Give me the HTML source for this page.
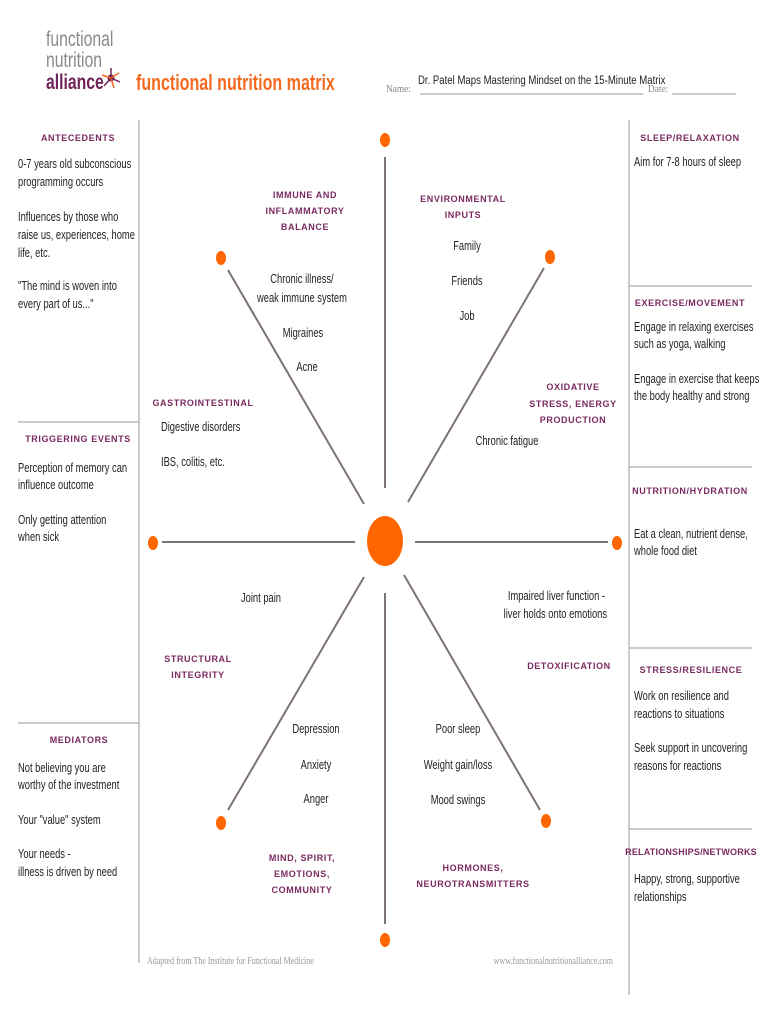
<!DOCTYPE html>
<html><head><meta charset="utf-8"><style>
html,body{margin:0;padding:0;background:#fff;}
svg{display:block;}
.b{font-family:"Liberation Sans",sans-serif;font-size:13px;fill:#222;}
.h{font-family:"Liberation Sans",sans-serif;font-size:9px;font-weight:bold;fill:#7b2a60;letter-spacing:0.6px;}
</style></head><body>
<svg width="770" height="1024" viewBox="0 0 770 1024" xmlns="http://www.w3.org/2000/svg">
<g font-family="Liberation Sans,sans-serif">
<text x="46" y="46" font-size="21" fill="#8a8a8a" transform="translate(46,0) scale(0.75,1) translate(-46,0)">functional</text>
<text x="46" y="67" font-size="21" fill="#8a8a8a" transform="translate(46,0) scale(0.75,1) translate(-46,0)">nutrition</text>
<text x="46" y="89" font-size="21" font-weight="bold" fill="#6e2458" transform="translate(46,0) scale(0.75,1) translate(-46,0)">alliance</text>
<g stroke-width="1.5">
<circle cx="111" cy="78" r="3.5" fill="#6e2458"/>
<line x1="111" y1="78" x2="111" y2="68" stroke="#6e2458"/><line x1="111" y1="78" x2="119" y2="73" stroke="#f26b21"/>
<line x1="111" y1="78" x2="120" y2="82" stroke="#6e2458"/><line x1="111" y1="78" x2="114" y2="88" stroke="#f26b21"/>
<line x1="111" y1="78" x2="104" y2="86" stroke="#6e2458"/><line x1="111" y1="78" x2="102" y2="75" stroke="#f26b21"/>
</g>
<text x="136" y="90" font-size="22" font-weight="bold" fill="#f26b21" transform="translate(136,0) scale(0.73,1) translate(-136,0)">functional nutrition matrix</text>
<text x="386" y="92" font-size="11" fill="#888" font-family="Liberation Serif,serif" transform="translate(386,0) scale(0.85,1) translate(-386,0)">Name:</text>
<line x1="420" y1="94" x2="643" y2="94" stroke="#777" stroke-width="0.8"/>
<text x="418" y="84" font-size="12" fill="#222" transform="translate(418,0) scale(0.8,1) translate(-418,0)">Dr. Patel Maps Mastering Mindset on the 15-Minute Matrix</text>
<text x="648" y="92" font-size="11" fill="#888" font-family="Liberation Serif,serif" transform="translate(648,0) scale(0.85,1) translate(-648,0)">Date:</text>
<line x1="672" y1="94" x2="736" y2="94" stroke="#777" stroke-width="0.8"/>
</g>
<g stroke="#aaa" stroke-width="1.2">
<line x1="139" y1="120" x2="139" y2="963"/>
<line x1="629" y1="120" x2="629" y2="995"/>
<line x1="18" y1="422" x2="139" y2="422"/>
<line x1="18" y1="723" x2="139" y2="723"/>
<line x1="629" y1="286" x2="752" y2="286"/>
<line x1="629" y1="467" x2="752" y2="467"/>
<line x1="629" y1="648" x2="752" y2="648"/>
<line x1="629" y1="829" x2="752" y2="829"/>
</g>
<g stroke="#7d7373" stroke-width="2">
<line x1="385" y1="157" x2="385" y2="488"/>
<line x1="228" y1="270" x2="364" y2="504"/>
<line x1="544" y1="268" x2="408" y2="502"/>
<line x1="162" y1="542" x2="355" y2="542"/>
<line x1="415" y1="542" x2="608" y2="542"/>
<line x1="364" y1="577" x2="228" y2="810"/>
<line x1="404" y1="575" x2="540" y2="810"/>
<line x1="385" y1="593" x2="385" y2="924"/>
</g>
<g fill="#ff6600">
<ellipse cx="385" cy="541" rx="18" ry="25"/>
<ellipse cx="385" cy="140" rx="5" ry="7"/>
<ellipse cx="221" cy="258" rx="5" ry="7"/>
<ellipse cx="550" cy="257" rx="5" ry="7"/>
<ellipse cx="153" cy="543" rx="5" ry="7"/>
<ellipse cx="617" cy="543" rx="5" ry="7"/>
<ellipse cx="221" cy="823" rx="5" ry="7"/>
<ellipse cx="546" cy="821" rx="5" ry="7"/>
<ellipse cx="385" cy="940" rx="5" ry="7"/>
</g>
<g class="h" text-anchor="middle">
<text x="78" y="141">ANTECEDENTS</text>
<text x="690" y="141">SLEEP/RELAXATION</text>
<text x="305" y="198">IMMUNE AND</text><text x="305" y="214">INFLAMMATORY</text><text x="305" y="230">BALANCE</text>
<text x="463" y="202">ENVIRONMENTAL</text><text x="463" y="218">INPUTS</text>
<text x="203" y="406">GASTROINTESTINAL</text>
<text x="573" y="390">OXIDATIVE</text><text x="573" y="407">STRESS, ENERGY</text><text x="573" y="423">PRODUCTION</text>
<text x="78" y="442">TRIGGERING EVENTS</text>
<text x="690" y="306">EXERCISE/MOVEMENT</text>
<text x="690" y="494">NUTRITION/HYDRATION</text>
<text x="198" y="662">STRUCTURAL</text><text x="198" y="678">INTEGRITY</text>
<text x="569" y="669">DETOXIFICATION</text>
<text x="691" y="673">STRESS/RESILIENCE</text>
<text x="79" y="743">MEDIATORS</text>
<text x="302" y="861">MIND, SPIRIT,</text><text x="302" y="877">EMOTIONS,</text><text x="302" y="893">COMMUNITY</text>
<text x="473" y="871">HORMONES,</text><text x="473" y="887">NEUROTRANSMITTERS</text>
<text x="691" y="855" letter-spacing="0.2">RELATIONSHIPS/NETWORKS</text>
</g>
<g class="b" transform="scale(0.72,1)">
<g>
<text x="25" y="168">0-7 years old subconscious</text><text x="25" y="186">programming occurs</text>
<text x="25" y="221">Influences by those who</text><text x="25" y="239">raise us, experiences, home</text><text x="25" y="257">life, etc.</text>
<text x="25" y="290">"The mind is woven into</text><text x="25" y="308">every part of us..."</text>
<text x="25" y="472">Perception of memory can</text><text x="25" y="489">influence outcome</text>
<text x="25" y="524">Only getting attention</text><text x="25" y="541">when sick</text>
<text x="25" y="772">Not believing you are</text><text x="25" y="789">worthy of the investment</text>
<text x="25" y="824">Your "value" system</text>
<text x="25" y="858">Your needs -</text><text x="25" y="876">illness is driven by need</text>
<text x="880.6" y="166">Aim for 7-8 hours of sleep</text>
<text x="880.6" y="331">Engage in relaxing exercises</text><text x="880.6" y="348">such as yoga, walking</text>
<text x="880.6" y="383">Engage in exercise that keeps</text><text x="880.6" y="400">the body healthy and strong</text>
<text x="880.6" y="538">Eat a clean, nutrient dense,</text><text x="880.6" y="555">whole food diet</text>
<text x="880.6" y="700">Work on resilience and</text><text x="880.6" y="718">reactions to situations</text>
<text x="880.6" y="752">Seek support in uncovering</text><text x="880.6" y="770">reasons for reactions</text>
<text x="880.6" y="883">Happy, strong, supportive</text><text x="880.6" y="901">relationships</text>
<text x="223.6" y="431">Digestive disorders</text>
<text x="223.6" y="466">IBS, colitis, etc.</text>
</g>
<g text-anchor="middle">
<text x="419.4" y="283">Chronic illness/</text><text x="419.4" y="302">weak immune system</text>
<text x="420.8" y="337">Migraines</text><text x="426.4" y="371">Acne</text>
<text x="648.6" y="250">Family</text><text x="648.6" y="285">Friends</text><text x="648.6" y="320">Job</text>
<text x="704.2" y="445">Chronic fatigue</text>
<text x="362.5" y="602">Joint pain</text>
<text x="438.9" y="733">Depression</text><text x="438.9" y="769">Anxiety</text><text x="438.9" y="803">Anger</text>
<text x="636.1" y="733">Poor sleep</text><text x="636.1" y="769">Weight gain/loss</text><text x="636.1" y="804">Mood swings</text>
</g>
<g text-anchor="end">
<text x="840.3" y="600">Impaired liver function -</text><text x="843.1" y="618">liver holds onto emotions</text>
</g>
</g>
<g font-family="Liberation Serif,serif" font-size="10" fill="#999">
<text x="147" y="964" transform="translate(147,0) scale(0.8,1) translate(-147,0)">Adapted from The Institute for Functional Medicine</text>
<text x="613" y="964" text-anchor="end" transform="translate(613,0) scale(0.8,1) translate(-613,0)">www.functionalnutritionalliance.com</text>
</g>
</svg>
</body></html>
